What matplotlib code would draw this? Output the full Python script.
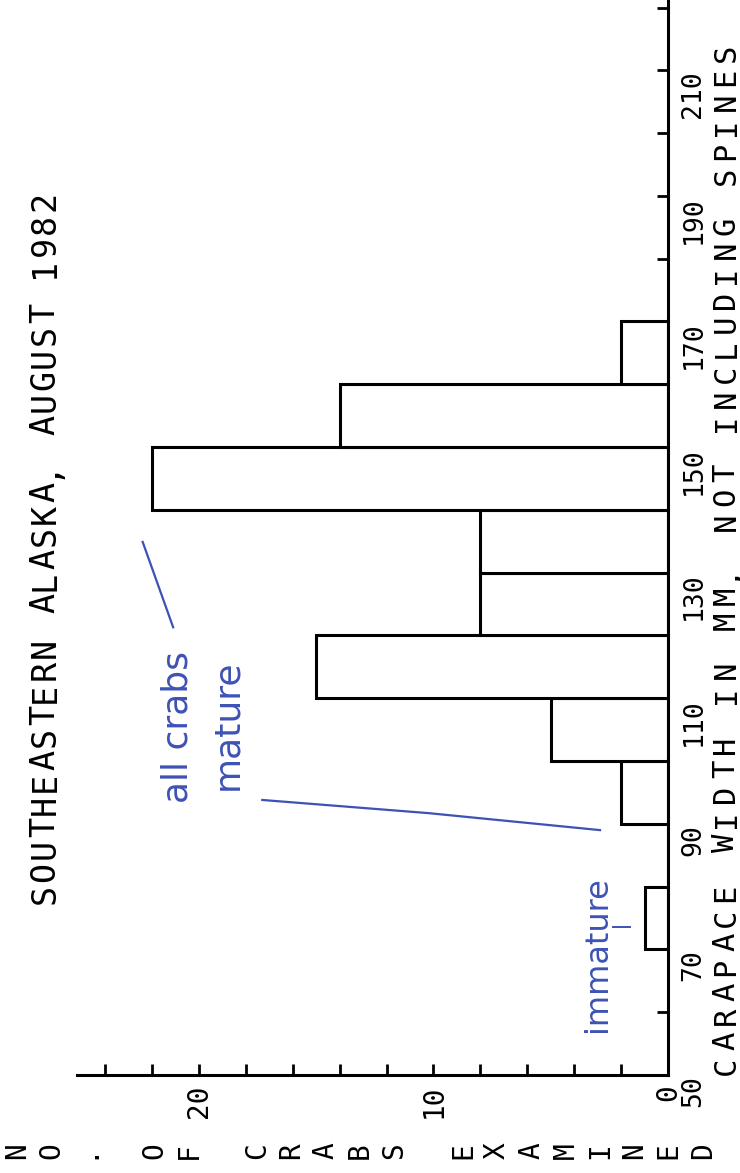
import matplotlib
matplotlib.use("Agg")
import matplotlib.pyplot as plt

# ---- data ----
bin_starts = [70, 80, 90, 100, 110, 120, 130, 140, 150, 160]
counts = [1, 0, 2, 5, 15, 8, 8, 22, 14, 2]
bin_width = 10
width_ticks = [50, 70, 90, 110, 130, 150, 170, 190, 210]
count_ticks = [0, 10, 20]

title = "SOUTHEASTERN ALASKA, AUGUST 1982"
width_label = "CARAPACE WIDTH IN MM, NOT INCLUDING SPINES"
count_label = "NO. OF CRABS EXAMINED"

MONO = "DejaVu Sans Mono"
BLUE = "#3d52b5"
W, H = 740, 1173

fig = plt.figure(figsize=(W / 100, H / 100), dpi=100)
ax = fig.add_axes([77 / W, 98 / H, 591 / W, 1075 / H])

ax.barh(bin_starts, counts, height=bin_width, align="edge",
        color="white", edgecolor="black", linewidth=2.2, zorder=2)

ax.set_xlim(25.2, 0)
ax.set_ylim(50, 221.2)

for s in ["top", "left"]:
    ax.spines[s].set_visible(False)
for s in ["right", "bottom"]:
    ax.spines[s].set_linewidth(2.2)
    ax.spines[s].set_zorder(3)

# width axis (right side)
ax.yaxis.tick_right()
ax.set_yticks(width_ticks)
ax.set_yticks(list(range(50, 221, 10)), minor=True)
ax.set_yticklabels([str(v) for v in width_ticks], rotation=90, va="top",
                   fontfamily=MONO, fontsize=19)
ax.tick_params(axis="y", which="both", direction="in", length=8, width=2,
               right=True, left=False, pad=9)

# count axis (bottom)
ax.set_xticks(count_ticks)
ax.set_xticks(list(range(0, 25, 2)), minor=True)
ax.set_xticklabels([str(v) for v in count_ticks], rotation=90, ha="center",
                   fontfamily=MONO, fontsize=20)
ax.tick_params(axis="x", which="both", direction="in", length=8, width=2,
               bottom=True, top=False, pad=7)


def vertical_plotter_text(s, x_px, y_start_px, y_end_px, size):
    """Plotter-style text read bottom-to-top, characters on a fixed pitch."""
    step = (y_start_px - y_end_px) / len(s)
    for i, ch in enumerate(s):
        if ch == " ":
            continue
        y = y_start_px - step * (i + 0.5)
        fig.text(x_px / W, 1 - y / H, ch, rotation=90, ha="center",
                 va="center", fontfamily=MONO, fontsize=size)


# title (left, rotated)
vertical_plotter_text(title, 45, 905, 190, 24)

# width axis label (right, rotated)
vertical_plotter_text(width_label, 726, 1078, 40, 22)

# count axis label: characters individually rotated, laid out left to right
for i, ch in enumerate(count_label):
    if ch == " ":
        continue
    fig.text((17 + 34.3 * i) / W, 1 - 1151 / H, ch, rotation=90,
             ha="center", va="center", fontfamily=MONO, fontsize=20)

# handwritten notes
ax.text(20.9, 105.4, "all crabs", rotation=90, ha="center", va="center",
        color=BLUE, fontsize=26, fontfamily="DejaVu Sans", zorder=4)
ax.text(18.8, 105.7, "mature", rotation=90, ha="center", va="center",
        color=BLUE, fontsize=26, fontfamily="DejaVu Sans", zorder=4)
ax.text(3.0, 69.3, "immature", rotation=90, ha="center", va="center",
        color=BLUE, fontsize=23, fontfamily="DejaVu Sans", zorder=4)
ax.plot([22.4, 21.1], [134.9, 121.3], color=BLUE, lw=1.6, zorder=4)
ax.plot([17.3, 10.2, 2.9], [93.8, 91.7, 89.0], color=BLUE, lw=1.6, zorder=4)
ax.plot([2.35, 1.6], [73.6, 73.6], color=BLUE, lw=1.4, zorder=4)

fig.savefig("out.png", dpi=100)
